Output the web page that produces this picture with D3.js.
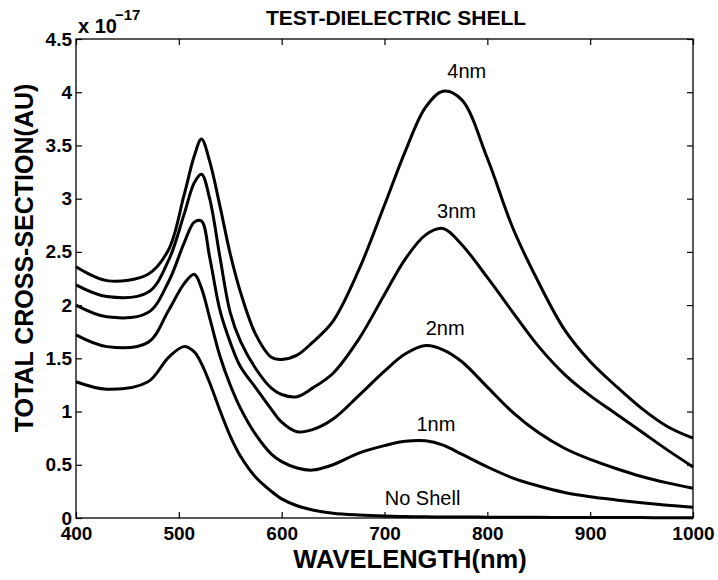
<!DOCTYPE html>
<html>
<head>
<meta charset="utf-8">
<script src="https://cdn.jsdelivr.net/npm/d3@7"></script>
<style>
  html, body { margin: 0; padding: 0; background: #fff; }
  svg { display: block; }
  text { font-family: "Liberation Sans", Arial, Helvetica, sans-serif; fill: #000; }
</style>
</head>
<body>
<svg id="chart" width="718" height="580"></svg>
<script>
// Wavelength samples (nm) shared by every spectrum
const wavelength = [400, 430, 470, 490, 505, 515, 522, 530, 540, 550, 560, 575, 590, 600, 615, 630,
                    650, 675, 700, 720, 740, 757, 775, 800, 825, 850, 875, 900, 925, 950, 975, 1000];

// Total cross-section (units of 1e-17) for each shell thickness
const noShell = [1.28, 1.21, 1.28, 1.51, 1.61, 1.56, 1.45, 1.27, 1.01, 0.77, 0.58, 0.38, 0.25, 0.18, 0.115, 0.075,
                 0.045, 0.028, 0.018, 0.014, 0.011, 0.01, 0.009, 0.008, 0.007, 0.006, 0.005, 0.005, 0.004, 0.004, 0.003, 0.003];
const shell1nm = [1.72, 1.61, 1.65, 1.95, 2.20, 2.29, 2.16, 1.88, 1.52, 1.25, 1.03, 0.78, 0.60, 0.53, 0.47, 0.45,
                  0.50, 0.61, 0.68, 0.72, 0.725, 0.685, 0.60, 0.48, 0.375, 0.30, 0.24, 0.20, 0.17, 0.143, 0.12, 0.10];
const shell2nm = [2.00, 1.89, 1.93, 2.22, 2.58, 2.78, 2.79, 2.45, 1.95, 1.65, 1.42, 1.22, 1.02, 0.90, 0.81, 0.83,
                  0.93, 1.15, 1.38, 1.54, 1.62, 1.58, 1.47, 1.23, 0.99, 0.80, 0.655, 0.55, 0.465, 0.39, 0.33, 0.28];
const shell3nm = [2.19, 2.08, 2.12, 2.42, 2.85, 3.15, 3.23, 3.00, 2.45, 1.93, 1.66, 1.40, 1.22, 1.16, 1.14, 1.22,
                  1.36, 1.68, 2.10, 2.43, 2.66, 2.72, 2.57, 2.26, 1.93, 1.61, 1.35, 1.15, 0.98, 0.81, 0.64, 0.48];
const shell4nm = [2.36, 2.23, 2.29, 2.52, 3.03, 3.40, 3.56, 3.35, 2.93, 2.48, 2.12, 1.72, 1.51, 1.49, 1.53, 1.65,
                  1.85, 2.33, 2.94, 3.44, 3.86, 4.01, 3.93, 3.38, 2.72, 2.21, 1.77, 1.47, 1.24, 1.03, 0.86, 0.75];

const seriesNames = ["No Shell", "1nm", "2nm", "3nm", "4nm"];
const seriesValues = [noShell, shell1nm, shell2nm, shell3nm, shell4nm];
// Where each curve's name sits: [wavelength, cross-section] at the text baseline centre
const seriesLabelAt = [[737, 0.12], [750, 0.82], [759, 1.72], [770, 2.82], [780, 4.13]];

// Axis ticks
const xTicks = [400, 500, 600, 700, 800, 900, 1000];
const yTicks = [0, 0.5, 1, 1.5, 2, 2.5, 3, 3.5, 4, 4.5];
const yTickLabels = ["0", "0.5", "1", "1.5", "2", "2.5", "3", "3.5", "4", "4.5"];

const titleText = "TEST-DIELECTRIC SHELL";
const xTitle = "WAVELENGTH(nm)";
const yTitle = "TOTAL CROSS-SECTION(AU)";

const svg = d3.select("#chart");
const plotLeft = 76, plotRight = 693, plotTop = 39, plotBottom = 518;

const x = d3.scaleLinear().domain([400, 1000]).range([plotLeft, plotRight]);
const y = d3.scaleLinear().domain([0, 4.5]).range([plotBottom, plotTop]);

// Spectra
const line = d3.line()
  .x((d, i) => x(wavelength[i]))
  .y(d => y(d))
  .curve(d3.curveCatmullRom.alpha(0.5));

svg.append("g")
  .selectAll("path")
  .data(seriesValues)
  .join("path")
  .attr("d", line)
  .attr("fill", "none")
  .attr("stroke", "#000")
  .attr("stroke-width", 3)
  .attr("stroke-linejoin", "round");

// Frame and inward ticks on all four sides
const tickLen = 6;
const tickStyle = g => {
  g.select(".domain").remove();
  g.selectAll(".tick line").attr("stroke", "#000").attr("stroke-width", 1.2);
};

svg.append("g")
  .attr("transform", `translate(0,${plotBottom})`)
  .call(d3.axisBottom(x).tickValues(xTicks).tickFormat(d3.format("d")).tickSize(-tickLen).tickPadding(9))
  .call(tickStyle)
  .call(g => g.selectAll("text").attr("font-size", 19).attr("font-weight", "bold")
    .attr("font-family", "'Liberation Sans', Arial, sans-serif"));

svg.append("g")
  .attr("transform", `translate(0,${plotTop})`)
  .call(d3.axisTop(x).tickValues(xTicks).tickSize(-tickLen).tickFormat(""))
  .call(tickStyle);

svg.append("g")
  .attr("transform", `translate(${plotLeft},0)`)
  .call(d3.axisLeft(y).tickValues(yTicks).tickFormat((d, i) => yTickLabels[i]).tickSize(-tickLen).tickPadding(4))
  .call(tickStyle)
  .call(g => g.selectAll("text").attr("font-size", 19).attr("font-weight", "bold")
    .attr("font-family", "'Liberation Sans', Arial, sans-serif"));

svg.append("g")
  .attr("transform", `translate(${plotRight},0)`)
  .call(d3.axisRight(y).tickValues(yTicks).tickSize(-tickLen).tickFormat(""))
  .call(tickStyle);

svg.append("rect")
  .attr("x", plotLeft).attr("y", plotTop)
  .attr("width", plotRight - plotLeft).attr("height", plotBottom - plotTop)
  .attr("fill", "none").attr("stroke", "#000").attr("stroke-width", 1.3);

// Curve names
svg.append("g")
  .selectAll("text")
  .data(seriesNames)
  .join("text")
  .attr("x", (d, i) => x(seriesLabelAt[i][0]))
  .attr("y", (d, i) => y(seriesLabelAt[i][1]))
  .attr("text-anchor", "middle")
  .attr("font-size", 20)
  .text(d => d);

// Exponent note above the y axis
const expo = svg.append("text")
  .attr("x", 78).attr("y", 33)
  .attr("font-size", 20).attr("font-weight", "bold");
expo.append("tspan").text("x 10");
expo.append("tspan").attr("dx", -2).attr("dy", -13).attr("font-size", 15).text("\u221217");

// Titles
svg.append("text")
  .attr("x", 396).attr("y", 25)
  .attr("text-anchor", "middle")
  .attr("font-size", 21).attr("font-weight", "bold")
  .text(titleText);

svg.append("text")
  .attr("x", 410).attr("y", 568)
  .attr("text-anchor", "middle")
  .attr("font-size", 25.5).attr("font-weight", "bold")
  .text(xTitle);

svg.append("text")
  .attr("transform", "translate(33,258) rotate(-90)")
  .attr("text-anchor", "middle")
  .attr("font-size", 25).attr("font-weight", "bold")
  .text(yTitle);
</script>
</body>
</html>
